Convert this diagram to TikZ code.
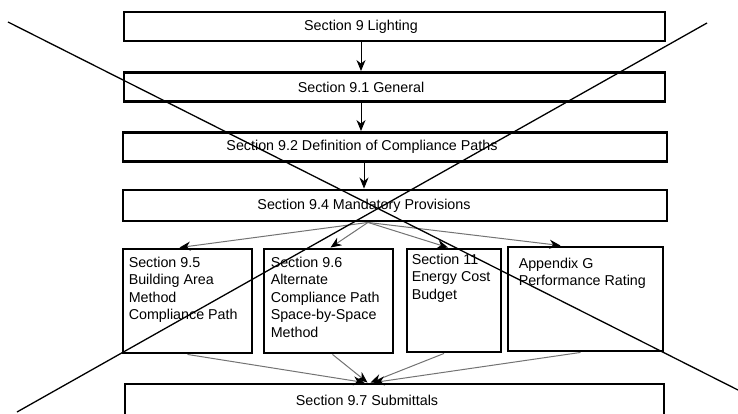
\documentclass[tikz,border=0pt]{standalone}
\usepackage{fontspec}
\setmainfont{Liberation Sans}
\usetikzlibrary{arrows.meta, calc}

\begin{document}
\begin{tikzpicture}[
    x=1pt, y=-1pt,
    font=\fontsize{14.3}{17.6}\selectfont,
    box/.style={draw, line width=2.9pt, inner sep=0pt},
    wide/.style={box, minimum width=541pt, minimum height=29pt},
    txt/.style={inner sep=0pt, align=left, anchor=north west},
    down/.style={-{Stealth[length=11pt,width=9pt]}, line width=1pt},
    fan/.style={draw=black!55, line width=1pt, -{Stealth[length=11pt,width=9pt,color=black]}},
    cross/.style={line width=1.3pt}
    ]
\useasboundingbox (0,0) rectangle (738,414);

% chain of sections
\node[wide] (light) at (394.5,26.5) {};
\node (lighttext) at (361,26.5) {Section 9 Lighting};
\node[wide] (general) at (394.5,87) {};
\node (generaltext) at (361,87) {Section 9.1 General};
\node[wide, minimum width=544pt] (paths) at (395,147) {};
\node (pathstext) at (362,147) {Section 9.2 Definition of Compliance Paths};
\node[wide, minimum width=544pt, minimum height=31pt] (mandatory) at (395,205.5) {};
\node (mandatorytext) at (364,205.5) {Section 9.4 Mandatory Provisions};
\draw[down] (lighttext |- light.south) -- (lighttext |- general.north);
\draw[down] (generaltext |- general.south) -- (generaltext |- paths.north);
\draw[down] (mandatorytext |- paths.south) -- (mandatorytext |- mandatory.north);

% compliance paths
\node[box, minimum width=129pt, minimum height=104pt] (bam) at (187.5,301) {};
\node[txt] (bamtext) at ($(bam.north west)+(7,9)$) {Section 9.5\\Building Area\\Method\\Compliance Path};
\node[box, minimum width=129pt, minimum height=104pt] (ssm) at (328.5,301) {};
\node[txt] (ssmtext) at ($(ssm.north west)+(8,9)$) {Section 9.6\\Alternate\\Compliance Path\\Space-by-Space\\Method};
\node[box, minimum width=94pt, minimum height=103pt] (ecb) at (454,300.5) {};
\node[txt] (ecbtext) at ($(ecb.north west)+(6,6)$) {Section 11\\Energy Cost\\Budget};
\node[box, minimum width=155pt, minimum height=104pt] (prm) at (585.5,299) {};
\node[txt] (prmtext) at ($(prm.north west)+(12,12)$) {Appendix G\\Performance Rating};

\coordinate (split) at ([xshift=4pt]mandatorytext |- mandatory.south);
\draw[fan] (split) -- ([xshift=-8pt]bam.north);
\draw[fan] (split) -- ([xshift=2pt]ssm.north);
\draw[fan] (split) -- ([xshift=-6pt]ecb.north);
\draw[fan] (split) -- ([xshift=-25pt]prm.north);

% submittals
\node[box, minimum width=539pt, minimum height=34pt] (submit) at (394.5,401) {};
\node (submittext) at (367,400) {Section 9.7 Submittals};
\draw[fan] (bam.south) -- ([xshift=-30pt]submit.north);
\draw[fan] ([xshift=4pt]ssm.south) -- ([xshift=-27pt]submit.north);
\draw[fan] ([xshift=-10pt]ecb.south) -- ([xshift=-24pt]submit.north);
\draw[fan] ([xshift=-5pt]prm.south) -- ([xshift=-21pt]submit.north);

% crossing lines
\coordinate (ul) at (8,22);
\coordinate (lr) at (738,390);
\coordinate (ll) at (17,412);
\coordinate (ur) at (707,23);
\draw[cross] (ul) -- (lr);
\draw[cross] (ll) -- (ur);
\end{tikzpicture}
\end{document}
